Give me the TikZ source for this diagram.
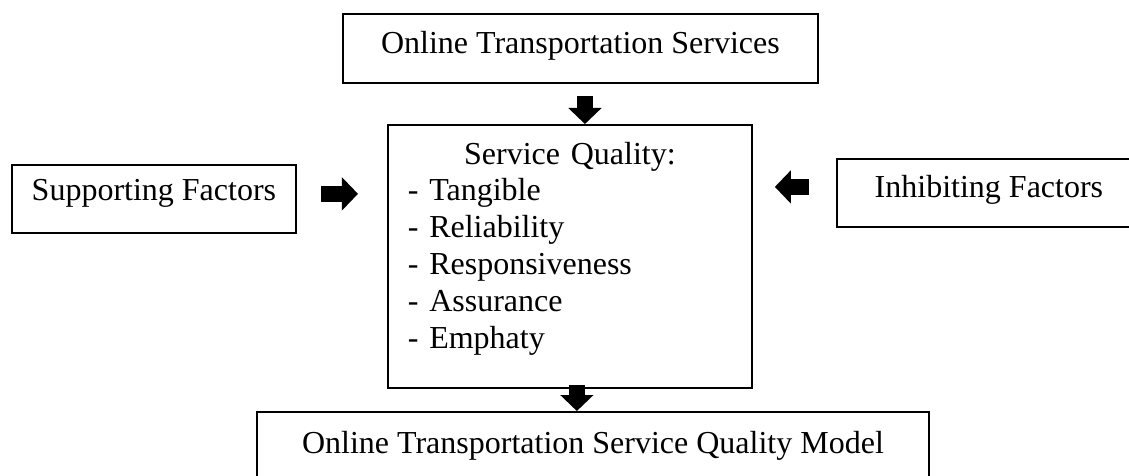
\documentclass[tikz,border=0pt]{standalone}
\usepackage{fontspec}
\setmainfont{Liberation Serif}
\usepackage{tikz}
\usetikzlibrary{positioning,arrows.meta}

\begin{document}
\begin{tikzpicture}[x=0.375pt,y=-0.375pt]
\tikzstyle{box}=[rectangle, draw=black, line width=0.7pt, inner sep=0pt, anchor=north west, font=\fontsize{12}{13.8}\selectfont]
\tikzstyle{connect}=[line width=6pt, -{Triangle[width=12.5pt,length=6pt,line width=0pt]}]
\useasboundingbox (0,0) rectangle (1129,476);
\clip (0,0) rectangle (1129,476);
	\node[box, minimum width=178.1pt, text height=15pt, text depth=10.9pt] (ots) at (342,13) {Online Transportation Services};
	\node[box, text width=121.5pt, inner xsep=7.5pt, inner ysep=6.4pt, text depth=77.6pt] (sq) at (387,124) {\parindent0pt\centering Service Quality:\par\raggedright - Tangible\par - Reliability\par - Responsiveness\par - Assurance\par - Emphaty};
	\node[box, minimum width=106.5pt, text height=13.5pt, text depth=12pt] (sup) at (11,164) {Supporting Factors};
	\node[box, minimum width=114pt, text height=14.6pt, text depth=10.9pt] (inh) at (836,158) {Inhibiting Factors};
	\node[box, minimum width=252pt, text height=15.4pt, text depth=11.6pt] (otsqm) at (256,411) {Online Transportation Service Quality Model};

	\draw[connect, shorten <=4.5pt] ([xshift=1.7pt]ots.south) -- ([xshift=1.7pt]ots.south |- sq.north);
	\draw[connect, shorten <=9pt, shorten >=10.9pt] ([yshift=1.9pt]sup.east) -- ([yshift=1.9pt]sup.east -| sq.west);
	\draw[connect, shorten <=10.1pt, shorten >=8.25pt] ([yshift=2.25pt]inh.west) -- ([yshift=2.25pt]inh.west -| sq.east);
	\draw[connect, shorten <=-1.5pt] ([xshift=2.6pt]sq.south) -- ([xshift=2.6pt]sq.south |- otsqm.north);
\end{tikzpicture}
\end{document}
